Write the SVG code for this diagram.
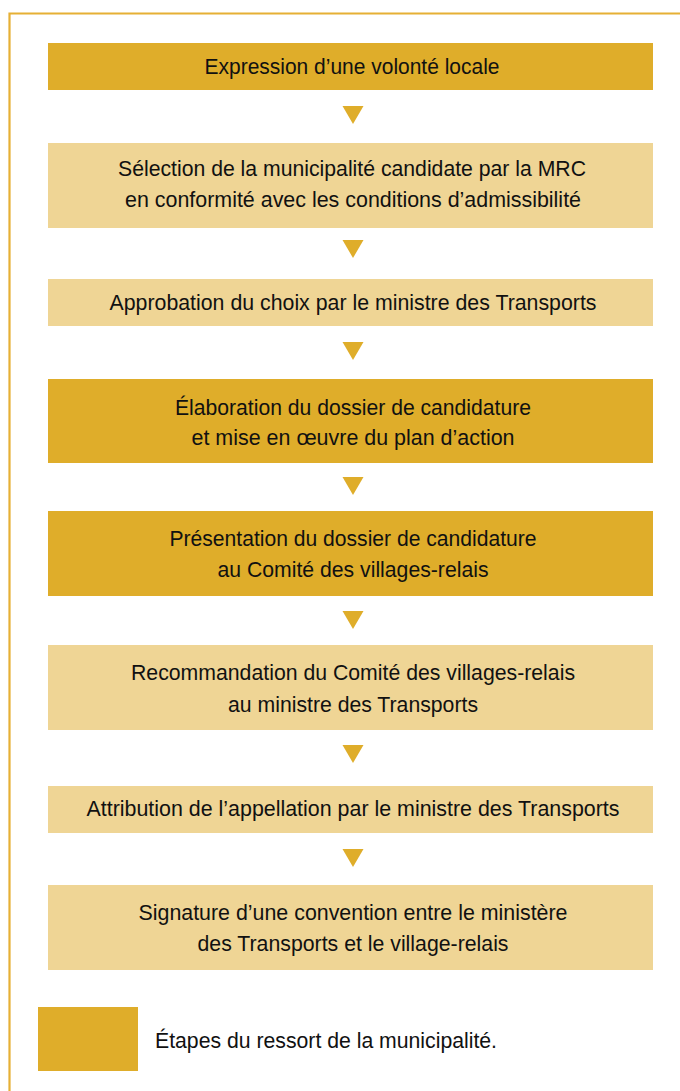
<svg xmlns="http://www.w3.org/2000/svg" width="680" height="1091" viewBox="0 0 680 1091">
<style>
.dark{fill:#dfad2a}
.light{fill:#efd595}
.t{font-family:"Liberation Sans",Arial,sans-serif;font-size:22px;fill:#111;text-anchor:middle}
.lt{font-family:"Liberation Sans",Arial,sans-serif;font-size:22px;fill:#111}
.arr{fill:#dfad2a}
.frame{fill:none;stroke:#e6b035;stroke-width:2.2}
</style>
<rect width="680" height="1091" fill="#fff"/>
<path class="frame" d="M9.5,1091 V13.5 H680"/>
<g id="n1"><rect class="dark" x="48" y="43" width="605" height="47"/><text class="t" x="352" y="74" textLength="295" lengthAdjust="spacingAndGlyphs">Expression d’une volonté locale</text></g>
<g id="n2"><rect class="light" x="48" y="143" width="605" height="85"/><text class="t" x="352" y="176" textLength="468" lengthAdjust="spacingAndGlyphs">Sélection de la municipalité candidate par la MRC</text><text class="t" x="353" y="207" textLength="456" lengthAdjust="spacingAndGlyphs">en conformité avec les conditions d’admissibilité</text></g>
<g id="n3"><rect class="light" x="48" y="279" width="605" height="47"/><text class="t" x="353" y="310" textLength="487" lengthAdjust="spacingAndGlyphs">Approbation du choix par le ministre des Transports</text></g>
<g id="n4"><rect class="dark" x="48" y="379" width="605" height="84"/><text class="t" x="353" y="415" textLength="356" lengthAdjust="spacingAndGlyphs">Élaboration du dossier de candidature</text><text class="t" x="353" y="445" textLength="323" lengthAdjust="spacingAndGlyphs">et mise en œuvre du plan d’action</text></g>
<g id="n5"><rect class="dark" x="48" y="511" width="605" height="85"/><text class="t" x="353" y="546" textLength="367" lengthAdjust="spacingAndGlyphs">Présentation du dossier de candidature</text><text class="t" x="353" y="577" textLength="271" lengthAdjust="spacingAndGlyphs">au Comité des villages-relais</text></g>
<g id="n6"><rect class="light" x="48" y="645" width="605" height="85"/><text class="t" x="353" y="680" textLength="444" lengthAdjust="spacingAndGlyphs">Recommandation du Comité des villages-relais</text><text class="t" x="353" y="712" textLength="250" lengthAdjust="spacingAndGlyphs">au ministre des Transports</text></g>
<g id="n7"><rect class="light" x="48" y="786" width="605" height="47"/><text class="t" x="353" y="816" textLength="533" lengthAdjust="spacingAndGlyphs">Attribution de l’appellation par le ministre des Transports</text></g>
<g id="n8"><rect class="light" x="48" y="885" width="605" height="85"/><text class="t" x="353" y="920" textLength="429" lengthAdjust="spacingAndGlyphs">Signature d’une convention entre le ministère</text><text class="t" x="353" y="951" textLength="311" lengthAdjust="spacingAndGlyphs">des Transports et le village-relais</text></g>
<g id="connectors">
<polygon class="arr" points="342.5,106 363.5,106 353,124"/>
<polygon class="arr" points="342.5,240 363.5,240 353,258"/>
<polygon class="arr" points="342.5,342 363.5,342 353,360"/>
<polygon class="arr" points="342.5,477 363.5,477 353,495"/>
<polygon class="arr" points="342.5,611 363.5,611 353,629"/>
<polygon class="arr" points="342.5,745 363.5,745 353,763"/>
<polygon class="arr" points="342.5,849 363.5,849 353,867"/>
</g>
<g id="legend"><rect class="dark" x="38" y="1007" width="100" height="64"/><text class="lt" x="155" y="1048" textLength="342" lengthAdjust="spacingAndGlyphs">Étapes du ressort de la municipalité.</text></g>
</svg>
